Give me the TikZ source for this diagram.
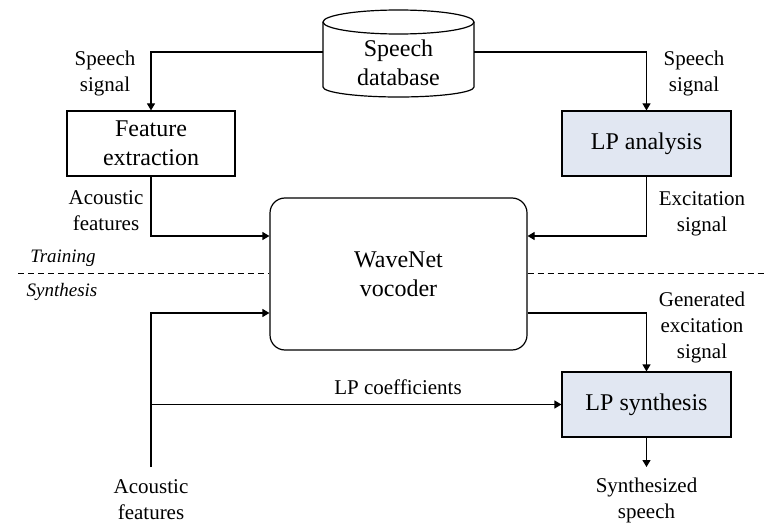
\documentclass[tikz,border=0pt]{standalone}
\usepackage{fontspec}
\setmainfont{Liberation Serif}
\usetikzlibrary{arrows.meta}
\definecolor{lpfill}{RGB}{225,231,242}
\tikzset{
  every picture/.style={x=1pt,y=-1pt},
  conn/.style={line width=1.2pt},
  arr/.style={conn,-{Triangle[length=7pt,width=8pt]}},
  blk/.style={draw,line width=1.2pt,minimum width=168pt,minimum height=65pt,
    align=center,font=\fontsize{24}{29}\selectfont,inner sep=0pt},
  lpblk/.style={blk,fill=lpfill},
  lbl/.style={align=center,font=\fontsize{21}{26}\selectfont,inner sep=0pt},
  phase/.style={font=\itshape\fontsize{19}{23}\selectfont,inner sep=0pt},
}
\begin{document}
\begin{tikzpicture}
\useasboundingbox (0,0) rectangle (771,524);

% database cylinder
\draw[line width=1.2pt] (323,22) -- (323,87)
  arc[start angle=180,end angle=360,x radius=75.5pt,y radius=10pt] -- (474,22);
\draw[line width=1.2pt] (398.5,22) ellipse [x radius=75.5pt,y radius=12pt];
\node[align=center,font=\fontsize{24}{29}\selectfont,inner sep=0pt] (db) at (398.5,63) {Speech\\database};
\coordinate (dbL) at (323,52);
\coordinate (dbR) at (474,52);

% processing blocks
\node[blk] (fe) at (151,143.5) {Feature\\extraction};
\node[lpblk,minimum width=169pt] (lpa) at (646.5,143.5) {LP analysis};
\node[blk,rounded corners=15pt,minimum width=257pt,minimum height=152pt] (wn) at (398.5,274) {WaveNet\\vocoder};
\node[lpblk,minimum width=169pt] (lps) at (646.5,404.5) {LP synthesis};

% training paths
\draw[arr] (dbL) -| (fe.north);
\draw[arr] (dbR) -| (lpa.north);
\draw[arr] (fe.south) |- ([yshift=38pt]wn.west);
\draw[arr] (lpa.south) |- ([yshift=38pt]wn.east);

% synthesis paths
\coordinate (af) at (151,467);
\coordinate (ss) at (646.5,467);
\draw[arr] (af) |- ([yshift=-39pt]wn.west);
\draw[arr] (af |- lps.west) -- (lps.west);
\draw[arr] ([yshift=-39pt]wn.east) -| (lps.north);
\draw[arr] (lps.south) -- (ss);

% training / synthesis divider
\draw[line width=1pt,dash pattern=on 6pt off 4pt] (18,273) -- (wn.west |- 0,273);
\draw[line width=1pt,dash pattern=on 6pt off 4pt] (wn.east |- 0,273) -- (767,273);
\node[phase] (tr) at (63,258) {Training};
\node[phase] (sy) at (62,292) {Synthesis};

% labels
\node[lbl] (ssL) at (105,73) {Speech\\signal};
\node[lbl] (ssR) at (694,73) {Speech\\signal};
\node[lbl] (afT) at (106,211) {Acoustic\\features};
\node[lbl] (exc) at (702,214) {Excitation\\signal};
\node[lbl] (gex) at (702,327) {Generated\\excitation\\signal};
\node[lbl] (lpc) at (398,387) {LP coefficients};
\node[lbl] (afB) at (151,500) {Acoustic\\features};
\node[lbl] (spo) at (646.5,500) {Synthesized\\speech};
\end{tikzpicture}
\end{document}
